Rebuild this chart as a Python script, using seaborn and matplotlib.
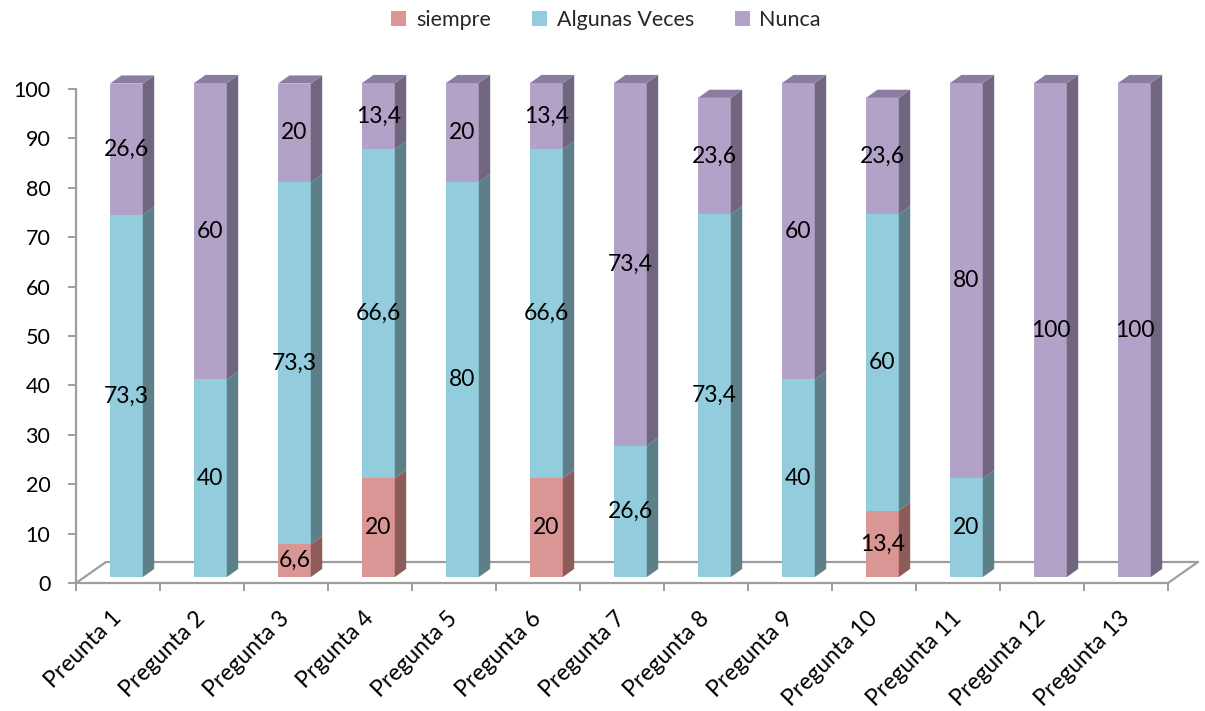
import matplotlib
matplotlib.use("Agg")
import matplotlib.pyplot as plt
import seaborn as sns
import numpy as np
import pandas as pd
from matplotlib.patches import Polygon, Patch

# ---- data -------------------------------------------------------------
categories = ["Preunta 1", "Pregunta 2", "Pregunta 3", "Prgunta 4", "Pregunta 5",
              "Pregunta 6", "Pregunta 7", "Pregunta 8", "Pregunta 9", "Pregunta 10",
              "Pregunta 11", "Pregunta 12", "Pregunta 13"]
siempre = [0, 0, 6.6, 20, 0, 20, 0, 0, 0, 13.4, 0, 0, 0]
algunas_veces = [73.3, 40, 73.3, 66.6, 80, 66.6, 26.6, 73.4, 40, 60, 20, 0, 0]
nunca = [26.6, 60, 20, 13.4, 20, 13.4, 73.4, 23.6, 60, 23.6, 80, 100, 100]
series_names = ["siempre", "Algunas Veces", "Nunca"]
y_ticks = list(range(0, 101, 10))

# ---- styling ----------------------------------------------------------
front_col = {"siempre": "#D99694", "Algunas Veces": "#93CDDD", "Nunca": "#B3A2C7"}
side_col = {"siempre": "#8D5B5A", "Algunas Veces": "#5D8088", "Nunca": "#716680"}
top_col = {"siempre": "#B27877", "Algunas Veces": "#76A8B6", "Nunca": "#8B7D9F"}
axis_gray = "#9E9E9E"

BAR_W = 0.39          # width of the front face (category units)
FX, FY = 0.10, 1.2    # front face offset into the floor depth
DX, DY = 0.136, 1.65  # bar depth
FLX, FLY = 0.357, 4.25  # floor depth

sns.set_theme(style="white")
plt.rcParams["font.family"] = ["Lato", "DejaVu Sans"]

fig = plt.figure(figsize=(12.05, 7.11), dpi=100)
ax = fig.add_axes([76 / 1205, 128 / 711, 1092 / 1205, 494 / 711])

df = pd.DataFrame({"pregunta": categories, "siempre": siempre,
                   "Algunas Veces": algunas_veces, "Nunca": nunca})
df["cum_siempre"] = df["siempre"]
df["cum_algunas"] = df["cum_siempre"] + df["Algunas Veces"]
df["cum_nunca"] = df["cum_algunas"] + df["Nunca"]

# stacked front faces: draw cumulative totals from the top layer down
for col, name in [("cum_nunca", "Nunca"), ("cum_algunas", "Algunas Veces"),
                  ("cum_siempre", "siempre")]:
    sns.barplot(data=df, x="pregunta", y=col, color=front_col[name], width=BAR_W,
                saturation=1, errorbar=None, linewidth=0, zorder=3, ax=ax)

for p in ax.patches:
    p.set_x(p.get_x() + FX)
    p.set_y(p.get_y() + FY)
    p.set_clip_on(False)

# side and top faces of every bar
for i in range(len(categories)):
    xl = i - BAR_W / 2 + FX
    xr = i + BAR_W / 2 + FX
    base = 0.0
    for name, vals in zip(series_names, [siempre, algunas_veces, nunca]):
        v = vals[i]
        if v <= 0:
            continue
        y0, y1 = base + FY, base + v + FY
        ax.add_patch(Polygon([(xr, y0), (xr, y1), (xr + DX, y1 + DY), (xr + DX, y0 + DY)],
                             closed=True, facecolor=side_col[name], edgecolor="none",
                             zorder=3, clip_on=False))
        # value label on the front face
        ax.text(i + FX, base + v / 2 + FY, f"{v:g}".replace(".", ","),
                ha="center", va="center", fontsize=16.5, color="black", zorder=5)
        base += v
        top_name = name
    T = base + FY
    ax.add_patch(Polygon([(xl, T), (xr, T), (xr + DX, T + DY), (xl + DX, T + DY)],
                         closed=True, facecolor=top_col[top_name], edgecolor="none",
                         zorder=3, clip_on=False))

# floor
ax.plot([-0.5, -0.5 + FLX], [0, FLY], color=axis_gray, lw=1.6, zorder=1, clip_on=False)
ax.plot([-0.5 + FLX, 12.5 + FLX], [FLY, FLY], color=axis_gray, lw=1.6, zorder=1, clip_on=False)
ax.plot([12.5, 12.5 + FLX], [0, FLY], color=axis_gray, lw=1.6, zorder=1, clip_on=False)

# axes
ax.set_xlim(-0.5, 12.5)
ax.set_ylim(0, 100)
ax.set_xlabel("")
ax.set_ylabel("")
for s in ["top", "right"]:
    ax.spines[s].set_visible(False)
for s in ["left", "bottom"]:
    ax.spines[s].set_color(axis_gray)
    ax.spines[s].set_linewidth(1.6)

ax.set_yticks(y_ticks)
ax.set_yticklabels([str(t) for t in y_ticks])
ax.tick_params(axis="y", left=True, length=6, width=1.4, color=axis_gray,
               labelsize=15.5, pad=12.5, labelcolor="black")

ax.set_xticks(range(len(categories)))
ax.set_xticklabels(categories, rotation=45, ha="right", va="center",
                   rotation_mode="anchor", fontsize=16.5)
ax.set_xticks(np.arange(-0.5, len(categories), 1), minor=True)
ax.tick_params(axis="x", which="major", bottom=False, length=0, pad=23, labelcolor="black")
ax.tick_params(axis="x", which="minor", bottom=True, length=5.5, width=1.4,
               color=axis_gray, direction="out")
ax.grid(False)

handles = [Patch(facecolor=front_col[n], edgecolor="none", label=n) for n in series_names]
fig.legend(handles=handles, loc="upper center", bbox_to_anchor=(0.503, 1.013), ncol=3,
           frameon=False, fontsize=15.5, handlelength=0.7, handleheight=0.7,
           handletextpad=0.45, columnspacing=1.9)

fig.savefig("out.png", dpi=100)
